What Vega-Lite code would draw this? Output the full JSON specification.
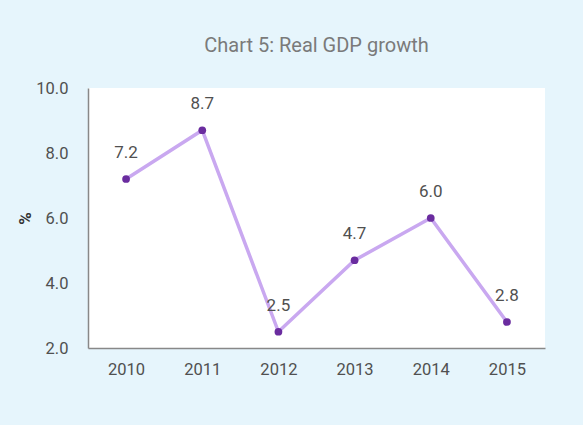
{
  "$schema": "https://vega.github.io/schema/vega-lite/v6.json",
  "width": 457,
  "height": 260,
  "autosize": {"type": "none"},
  "padding": {"left": 88, "top": 88, "right": 38, "bottom": 77},
  "background": "#e6f5fc",
  "title": {"text": "Chart 5: Real GDP growth", "font": "Roboto", "fontSize": 20, "fontWeight": "normal", "color": "#7a7a7a", "anchor": "middle", "offset": 24},
  "config": {"view": {"fill": "white", "stroke": null}, "font": "Roboto"},
  "data": {"values": [
    {"year": "2010", "growth": 7.2},
    {"year": "2011", "growth": 8.7},
    {"year": "2012", "growth": 2.5},
    {"year": "2013", "growth": 4.7},
    {"year": "2014", "growth": 6.0},
    {"year": "2015", "growth": 2.8}
  ]},
  "encoding": {
    "x": {"field": "year", "type": "ordinal", "scale": {"type": "point", "padding": 0.5}, "axis": {"title": null, "labelAngle": 0, "labelFontSize": 16.5, "labelColor": "#505050", "ticks": false, "labelPadding": 13, "domainColor": "#888", "domainWidth": 1.5, "grid": false}},
    "y": {"field": "growth", "type": "quantitative", "scale": {"domain": [2, 10], "nice": false}, "axis": {"title": "%", "titleFontSize": 17, "titleColor": "#333", "titleFontWeight": "bold", "titlePadding": 1, "titleAngle": -90, "values": [2, 4, 6, 8, 10], "format": ".1f", "labelFontSize": 16.5, "labelColor": "#505050", "ticks": false, "labelPadding": 20, "domainColor": "#888", "domainWidth": 1.5, "grid": false}}
  },
  "layer": [
    {"mark": {"type": "line", "color": "#c9a8f0", "strokeWidth": 3.5}},
    {"mark": {"type": "point", "filled": true, "color": "#6a2c9f", "size": 60, "opacity": 1}},
    {"mark": {"type": "text", "dy": -26, "fontSize": 17, "color": "#505050"}, "encoding": {"text": {"field": "growth", "type": "quantitative", "format": ".1f"}}}
  ]
}
